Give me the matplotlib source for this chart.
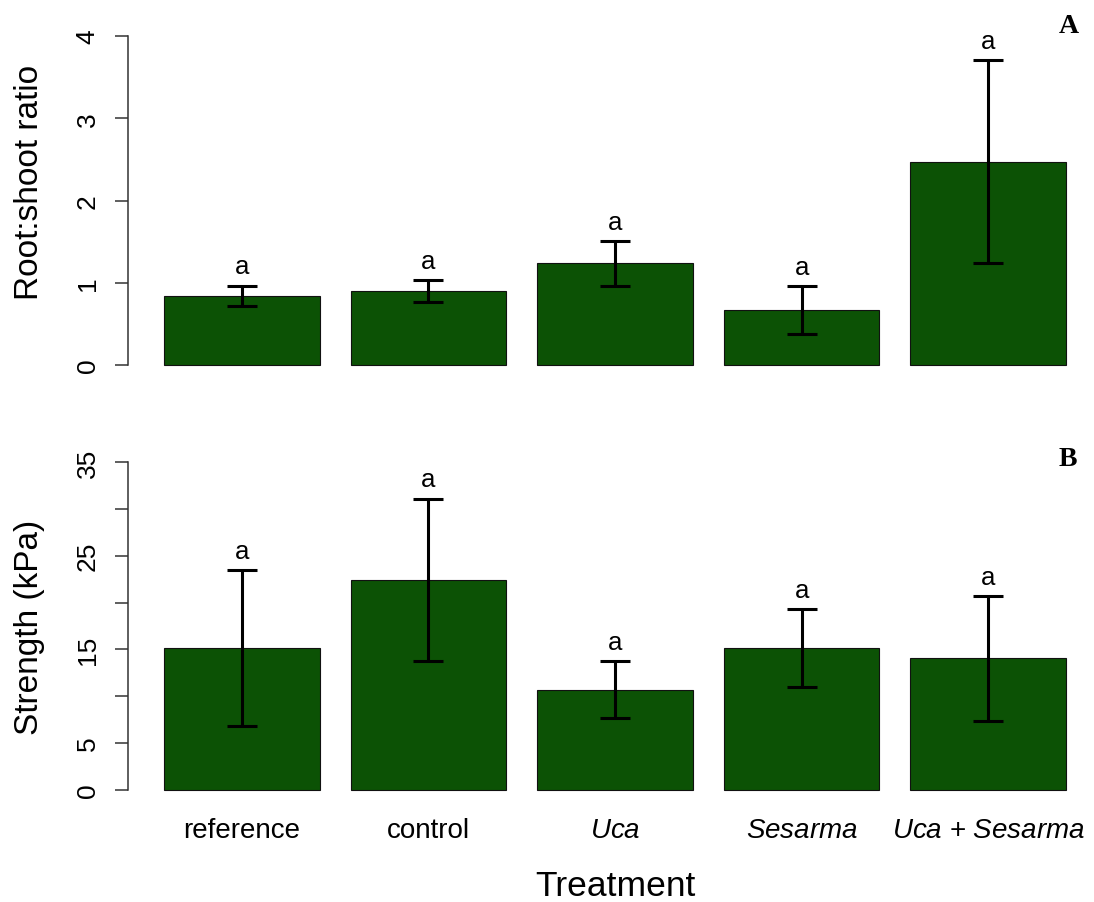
import numpy as np
import matplotlib
matplotlib.use("Agg")
import matplotlib.pyplot as plt

plt.rcParams["font.family"] = ["Liberation Sans", "DejaVu Sans"]
plt.rcParams["mathtext.fontset"] = "custom"
plt.rcParams["mathtext.rm"] = "Liberation Sans"
plt.rcParams["mathtext.it"] = "Liberation Sans:italic"

# treatments, means and standard errors
treatments = ["reference", "control", "$Uca$", "$Sesarma$", "$Uca$ + $Sesarma$"]
ratio_mean = [0.84, 0.90, 1.235, 0.665, 2.47]
ratio_se = [0.12, 0.13, 0.27, 0.29, 1.235]
strength_mean = [15.15, 22.45, 10.7, 15.15, 14.05]
strength_se = [8.3, 8.65, 3.02, 4.15, 6.65]
ratio_letters = ["a", "a", "a", "a", "a"]
strength_letters = ["a", "a", "a", "a", "a"]

ratio_ticks = [0, 1, 2, 3, 4]
strength_ticks = [0, 5, 10, 15, 20, 25, 30, 35]
strength_ticklabels = ["0", "5", "", "15", "", "25", "", "35"]

bar_col = "#0c5205"
W, H = 1094, 903

# barplot-style positions: width 1, space 0.2
x = 0.7 + 1.2 * np.arange(len(treatments))

fig = plt.figure(figsize=(W / 100, H / 100), dpi=100)


def panel(bottom_px, top_px, ylim):
    ax = fig.add_axes([128 / W, 1 - bottom_px / H, (1102 - 128) / W, (bottom_px - top_px) / H])
    ax.set_xlim(-0.032, 6.232)
    ax.set_ylim(*ylim)
    for s in ["top", "right", "bottom"]:
        ax.spines[s].set_visible(False)
    ax.spines["left"].set_color("#333333")
    ax.spines["left"].set_linewidth(1.1)
    ax.tick_params(axis="y", length=9.5, width=1.1, color="#333333", labelsize=19,
                   labelrotation=90, pad=11)
    return ax


def draw(ax, means, ses, letters):
    ax.bar(x, means, width=1.0, color=bar_col, edgecolor="#111111", linewidth=0.8)
    ax.errorbar(x, means, yerr=ses, fmt="none", ecolor="black", elinewidth=2.2,
                capsize=10.8, capthick=2.2)
    for xi, m, s, t in zip(x, means, ses, letters):
        ax.annotate(t, (xi, m + s), xytext=(0, 9), textcoords="offset points",
                    ha="center", va="baseline", fontsize=18.5)


# A: root:shoot ratio
ax1 = panel(379, 24, (-0.16, 4.16))
draw(ax1, ratio_mean, ratio_se, ratio_letters)
ax1.set_yticks(ratio_ticks)
ax1.set_yticklabels([str(t) for t in ratio_ticks], va="center")
ax1.spines["left"].set_bounds(0, 4)
ax1.set_xticks([])

# B: strength
ax2 = panel(804, 450, (-1.4, 36.4))
draw(ax2, strength_mean, strength_se, strength_letters)
ax2.set_yticks(strength_ticks)
ax2.set_yticklabels(strength_ticklabels, va="center")
ax2.spines["left"].set_bounds(0, 35)
ax2.set_xticks(x)
ax2.set_xticklabels(treatments, fontsize=20)
ax2.tick_params(axis="x", length=0, pad=10)

fig.text(30 / W, 1 - 182 / H, "Root:shoot ratio", rotation=90, ha="center", va="center",
         fontsize=24)
fig.text(30 / W, 1 - 627 / H, "Strength (kPa)", rotation=90, ha="center", va="center",
         fontsize=24)
fig.text(615 / W, 1 - 896 / H, "Treatment", ha="center", va="baseline", fontsize=25.5)

fig.text(1069 / W, 1 - 33 / H, "A", ha="center", va="baseline", fontsize=20,
         family="Liberation Serif", weight="bold")
fig.text(1068 / W, 1 - 466 / H, "B", ha="center", va="baseline", fontsize=20,
         family="Liberation Serif", weight="bold")

fig.savefig("out.png", dpi=100)
